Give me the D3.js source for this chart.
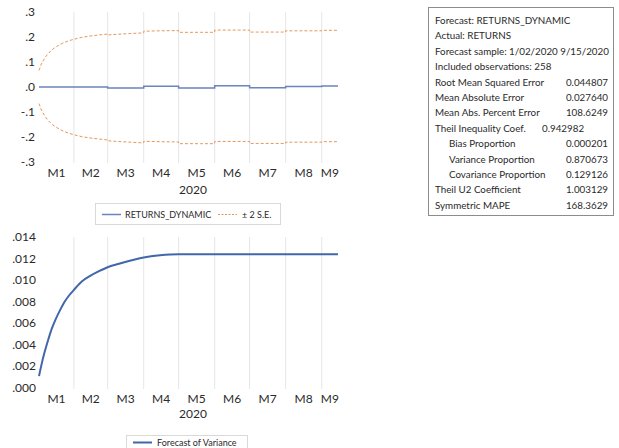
<!DOCTYPE html>
<html lang="en">
<head>
<meta charset="UTF-8">
<title>Forecast</title>
<script src="https://d3js.org/d3.v7.min.js"></script>
<style>
  body { margin: 0; background: #fff; }
  svg text { font-family: Lato, "Open Sans", sans-serif; fill: #2a2a2a; }
</style>
</head>
<body>
<div id="chart"></div>
<script>
// sample dates for the variance curve (month starts included so the steps line up)
const dates = ["2020-01-02","2020-01-04","2020-01-07","2020-01-10","2020-01-13","2020-01-16",
  "2020-01-20","2020-01-24","2020-01-28","2020-02-01","2020-02-08","2020-02-15","2020-02-22",
  "2020-03-01","2020-03-10","2020-03-20","2020-04-01","2020-04-15","2020-05-01","2020-05-20",
  "2020-06-01","2020-07-01","2020-08-01","2020-09-01","2020-09-15"];
const variance = [.0011,.0021,.0034,.0045,.0055,.0063,
  .0072,.0080,.0086,.0091,.0099,.0104,.0108,
  .0112,.0115,.0118,.0121,.0123,.0124,.0124,
  .0124,.0124,.0124,.0124,.0124];
// dynamic forecast, one level per month
const months = ["M1","M2","M3","M4","M5","M6","M7","M8","M9"];
const forecast = [0, 0, -.0035, .003, -.004, .005, -.003, .002, .004];
const topTicks = [-.3,-.2,-.1,0,.1,.2,.3];
const varTicks = [0,.002,.004,.006,.008,.010,.012,.014];

const statLabels = ["Forecast: RETURNS_DYNAMIC","Actual: RETURNS","Forecast sample: 1/02/2020 9/15/2020",
  "Included observations: 258","Root Mean Squared Error","Mean Absolute Error","Mean Abs. Percent Error",
  "Theil Inequality Coef.","Bias Proportion","Variance Proportion","Covariance Proportion",
  "Theil U2 Coefficient","Symmetric MAPE"];
const statValues = ["","","","","0.044807","0.027640","108.6249","0.942982","0.000201","0.870673",
  "0.129126","1.003129","168.3629"];

const W = 619, H = 448;
const parse = d3.timeParse("%Y-%m-%d");
const dd = dates.map(parse);
const fmt = d3.formatLocale({ decimal: ".", thousands: ",", grouping: [3], currency: ["", ""], minus: "-" });

const svg = d3.select("#chart").append("svg")
  .attr("width", W).attr("height", H);
svg.append("rect").attr("width", W).attr("height", H).attr("fill", "#fff");

const x = d3.scaleTime().domain([dd[0], dd[dd.length - 1]]).range([39, 338]);
const yTop = d3.scaleLinear().domain([-.3, .3]).range([162, 12]);
const yVar = d3.scaleLinear().domain([0, .014]).range([388, 237]);

const noLead = s => s.replace(/^(-?)0\./, "$1.");

// points with duplicated month starts for the step
const pts = [];
dd.forEach((d, i) => {
  const m = d.getMonth();
  if (i > 0 && d.getDate() === 1) pts.push({ d, f: forecast[m - 1], v: variance[i] });
  pts.push({ d, f: forecast[m], v: variance[i] });
});

function monthAxis(g, y0, y1, labelY, yearY) {
  const d0 = x.domain()[0], d1 = x.domain()[1];
  g.selectAll(".grid").data(x.ticks(d3.timeMonth.every(1))).join("line")
    .attr("x1", d => x(d)).attr("x2", d => x(d))
    .attr("y1", y0).attr("y2", y1)
    .attr("stroke", "#e6e6e6").attr("stroke-width", 1);
  g.selectAll(".mlab").data(months).join("text")
    .attr("x", (m, i) => {
      const s = new Date(Math.max(new Date(2020, i, 1), d0));
      const e = new Date(Math.min(new Date(2020, i + 1, 1), d1));
      return (x(s) + x(e)) / 2;
    })
    .attr("y", labelY).attr("text-anchor", "middle")
    .attr("font-size", 12).text(m => m);
  g.append("text").attr("x", 193).attr("y", yearY)
    .attr("text-anchor", "middle").attr("font-size", 12).text("2020");
}

// ---- top chart
const gTop = svg.append("g");
monthAxis(gTop, 12, 163, 177, 194);
gTop.selectAll(".yt").data(topTicks).join("text")
  .attr("x", 35).attr("y", d => yTop(d) + 4)
  .attr("text-anchor", "end").attr("font-size", 12)
  .text(d => noLead(fmt.format(".1f")(d)));

const band = sign => d3.line()
  .x(p => x(p.d)).y(p => yTop(p.f + sign * 2 * Math.sqrt(p.v)));
[1, -1].forEach(s => {
  gTop.append("path").datum(pts).attr("d", band(s))
    .attr("fill", "none").attr("stroke", "#e3985e")
    .attr("stroke-width", 1).attr("stroke-dasharray", "3,2");
});
gTop.append("path").datum(pts)
  .attr("d", d3.line().x(p => x(p.d)).y(p => yTop(p.f)))
  .attr("fill", "none").attr("stroke", "#6a84bd").attr("stroke-width", 1.5);

// legend top
const lg = svg.append("g");
lg.append("rect").attr("x", 95.5).attr("y", 203.5).attr("width", 185).attr("height", 21)
  .attr("fill", "#fff").attr("stroke", "#d9d9d9");
lg.append("line").attr("x1", 102).attr("x2", 121).attr("y1", 214.5).attr("y2", 214.5)
  .attr("stroke", "#6a84bd").attr("stroke-width", 1.5);
lg.append("text").attr("x", 125).attr("y", 218).attr("font-size", 9).text("RETURNS_DYNAMIC");
lg.append("line").attr("x1", 218).attr("x2", 237).attr("y1", 214.5).attr("y2", 214.5)
  .attr("stroke", "#e3985e").attr("stroke-dasharray", "2,1.5");
lg.append("text").attr("x", 242).attr("y", 218).attr("font-size", 9).text("\u00b1 2 S.E.");

// ---- bottom chart
const gBot = svg.append("g");
monthAxis(gBot, 237, 389, 403, 418);
gBot.selectAll(".yt").data(varTicks).join("text")
  .attr("x", 36).attr("y", d => yVar(d) + 4)
  .attr("text-anchor", "end").attr("font-size", 12)
  .text(d => noLead(fmt.format(".3f")(d)));
gBot.append("path").datum(dd.map((d, i) => ({ d, v: variance[i] })))
  .attr("d", d3.line().x(p => x(p.d)).y(p => yVar(p.v)).curve(d3.curveMonotoneX))
  .attr("fill", "none").attr("stroke", "#4267a9").attr("stroke-width", 2);

const lb = svg.append("g");
lb.append("rect").attr("x", 126.5).attr("y", 435.5).attr("width", 121).attr("height", 20)
  .attr("fill", "#fff").attr("stroke", "#d9d9d9");
lb.append("line").attr("x1", 133).attr("x2", 152).attr("y1", 442.5).attr("y2", 442.5)
  .attr("stroke", "#4267a9").attr("stroke-width", 2);
lb.append("text").attr("x", 157).attr("y", 446).attr("font-size", 9).text("Forecast of Variance");

// ---- statistics box
const box = svg.append("g");
box.append("rect").attr("x", 428.5).attr("y", 7.5).attr("width", 185).attr("height", 208)
  .attr("fill", "#fff").attr("stroke", "#8c8c8c");
const rowY = i => 24 + i * 15.4;
statLabels.forEach((t, i) => {
  const indent = i >= 8 && i <= 10;
  box.append("text").attr("x", indent ? 449 : 435).attr("y", rowY(i))
    .attr("font-size", 9.8).text(t);
  if (!statValues[i]) return;
  if (i === 7) {
    box.append("text").attr("x", 542).attr("y", rowY(i)).attr("font-size", 9.8).text(statValues[i]);
  } else {
    box.append("text").attr("x", 608).attr("y", rowY(i)).attr("text-anchor", "end")
      .attr("font-size", 9.8).text(statValues[i]);
  }
});
</script>
</body>
</html>
